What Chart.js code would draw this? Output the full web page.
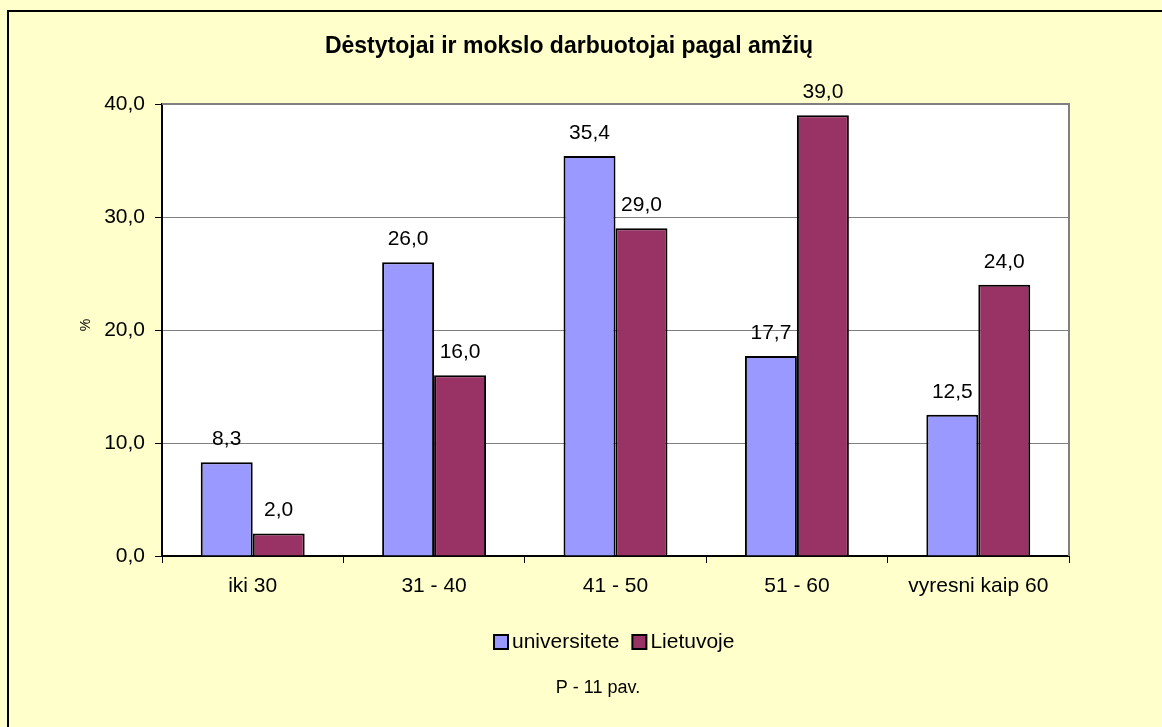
<!DOCTYPE html>
<html><head><meta charset="utf-8">
<script src="https://cdn.jsdelivr.net/npm/chart.js@4/dist/chart.umd.min.js"></script>
<style>html,body{margin:0;padding:0;background:#FFFFCC;}canvas{display:block;}</style>
</head><body>
<canvas id="c" width="1162" height="727"></canvas>
<script>
const categories = ['iki 30', '31 - 40', '41 - 50', '51 - 60', 'vyresni kaip 60'];
const universitete = [8.3, 26.0, 35.4, 17.7, 12.5];
const lietuvoje = [2.0, 16.0, 29.0, 39.0, 24.0];
const seriesNames = ['universitete', 'Lietuvoje'];
const titleText = 'Dėstytojai ir mokslo darbuotojai pagal amžių';
const yTitle = '%';
const footerText = 'P - 11 pav.';
const FONT = '"Liberation Sans", Arial, sans-serif';
const fmt = v => v.toFixed(1).replace('.', ',');

const decor = {
  id: 'decor',
  beforeDraw(chart) {
    const ctx = chart.ctx, a = chart.chartArea;
    ctx.save();
    ctx.fillStyle = '#FFFFCC';
    ctx.fillRect(0, 0, chart.width, chart.height);
    ctx.strokeStyle = '#000';
    ctx.lineWidth = 2;
    ctx.strokeRect(8, 11, chart.width + 20, chart.height + 20);
    ctx.fillStyle = '#FFFFFF';
    ctx.fillRect(a.left, a.top, a.right - a.left, a.bottom - a.top);
    ctx.restore();
  },
  afterDraw(chart) {
    const ctx = chart.ctx, a = chart.chartArea;
    ctx.save();
    ctx.strokeStyle = '#808080';
    ctx.lineWidth = 2;
    ctx.beginPath();
    ctx.moveTo(a.left, a.top);
    ctx.lineTo(a.right, a.top);
    ctx.lineTo(a.right, a.bottom);
    ctx.stroke();
    ctx.fillStyle = '#000';
    ctx.font = '21px ' + FONT;
    ctx.textAlign = 'center';
    ctx.textBaseline = 'alphabetic';
    chart.data.datasets.forEach((ds, i) => {
      chart.getDatasetMeta(i).data.forEach((bar, j) => {
        ctx.fillText(fmt(ds.data[j]), bar.x, bar.y - 17);
      });
    });
    ctx.font = 'bold 23px ' + FONT;
    ctx.textBaseline = 'middle';
    ctx.fillText(titleText, 569, 47);
    ctx.save();
    ctx.translate(86, 325);
    ctx.rotate(-Math.PI / 2);
    ctx.font = '14px ' + FONT;
    ctx.fillText(yTitle, 0, 0);
    ctx.restore();
    ctx.font = '21px ' + FONT;
    ctx.textAlign = 'left';
    let x = 494;
    const ly = 642;
    chart.data.datasets.forEach((ds, i) => {
      ctx.fillStyle = ds.backgroundColor;
      ctx.fillRect(x, ly - 7, 14, 14);
      ctx.strokeStyle = '#000';
      ctx.lineWidth = 2;
      ctx.strokeRect(x, ly - 7, 14, 14);
      ctx.fillStyle = '#000';
      ctx.fillText(ds.label, x + 18, ly);
      x += 18 + ctx.measureText(ds.label).width + 13;
    });
    ctx.font = '18px ' + FONT;
    ctx.textAlign = 'center';
    ctx.fillText(footerText, 598, 688);
    ctx.restore();
  }
};

new Chart(document.getElementById('c'), {
  type: 'bar',
  data: {
    labels: categories,
    datasets: [
      { label: seriesNames[0], data: universitete, backgroundColor: '#9999FF', borderColor: '#000', borderWidth: 2 },
      { label: seriesNames[1], data: lietuvoje, backgroundColor: '#993366', borderColor: '#000', borderWidth: 2 }
    ]
  },
  options: {
    responsive: false,
    animation: false,
    devicePixelRatio: 1,
    layout: { padding: { left: 0, right: 93, top: 104, bottom: 0 } },
    datasets: { bar: { categoryPercentage: 0.573, barPercentage: 1.0 } },
    plugins: { legend: { display: false }, title: { display: false }, tooltip: { enabled: false } },
    scales: {
      x: {
        afterFit(s) { s.height = 171; },
        grid: { drawOnChartArea: false, drawTicks: true, tickLength: 7, tickColor: '#000', offset: true },
        border: { color: '#000', width: 2 },
        ticks: { color: '#000', font: { family: FONT, size: 21 }, padding: 11, maxRotation: 0, autoSkip: false }
      },
      y: {
        min: 0, max: 40,
        afterFit(s) { s.width = 162; },
        grid: { color: '#808080', lineWidth: 1, tickLength: 7, tickColor: '#000' },
        border: { color: '#000', width: 2 },
        ticks: { stepSize: 10, color: '#000', font: { family: FONT, size: 21 }, padding: 10, callback: v => fmt(v) }
      }
    }
  },
  plugins: [decor]
});
</script>
</body></html>
